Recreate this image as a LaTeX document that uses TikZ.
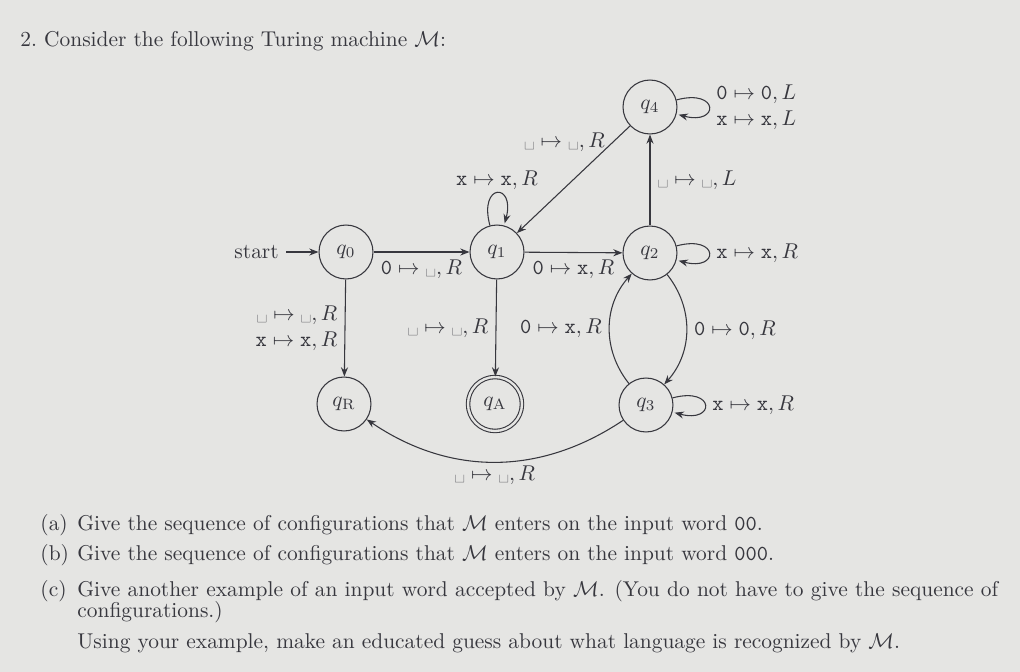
\documentclass[tikz,border=0pt]{standalone}
\usetikzlibrary{automata,arrows.meta}
\definecolor{paper}{RGB}{229,229,227}
\definecolor{ink}{RGB}{55,55,62}
\newcommand\blk{\mbox{\textvisiblespace}}
\newcommand\tz{\texttt{0}}
\newcommand\tx{\texttt{x}}
\newcommand\trn[3]{$#1\mapsto #2,#3$}
\begin{document}
\begin{tikzpicture}[x=0.467pt,y=-0.467pt,
  every node/.style={text=ink},
  every state/.style={draw=ink, line width=0.5pt, minimum size=25.2pt, inner sep=0pt},
  accepting/.style={double=paper, double distance=1.1pt},
  >={Stealth[length=4.3pt,width=3.3pt]},
  every edge/.style={draw=ink, line width=0.5pt},
  initial text=start, initial distance=15pt,
  every initial by arrow/.style={draw=ink, line width=0.5pt},
  txt/.style={anchor=base west, inner xsep=0pt}]
\fill[paper] (0,0) rectangle (1020,672);
\useasboundingbox (0,0) rectangle (1020,672);

\node[txt] (title) at (20,46) {2.\ Consider the following Turing machine $\mathcal{M}$:};

\node[state,initial] (q0) at (346,252) {$q_0$};
\node[state] (q1) at (497,252) {$q_1$};
\node[state] (q2) at (650,253) {$q_2$};
\node[state] (q4) at (650,107) {$q_4$};
\node[state] (qR) at (344,404) {$q_{\mathrm{R}}$};
\node[state,accepting] (qA) at (495,404) {$q_{\mathrm{A}}$};
\node[state] (q3) at (646,405) {$q_3$};

\path[->]
 (q0) edge node[below] {\trn{\tz}{\blk}{R}} (q1)
 (q1) edge node[below] {\trn{\tz}{\tx}{R}} (q2)
 (q1) edge[loop above] node[above, inner sep=1.2pt] {\trn{\tx}{\tx}{R}} ()
 (q4) edge node[pos=0.2, anchor=base east, inner sep=1pt] {\trn{\blk}{\blk}{R}} (q1)
 (q2) edge node[right] {\trn{\blk}{\blk}{L}} (q4)
 (q4) edge[loop right] node[right, align=left] {\trn{\tz}{\tz}{L}\\\trn{\tx}{\tx}{L}} ()
 (q2) edge[loop right] node[right] {\trn{\tx}{\tx}{R}} ()
 (q0) edge node[left, align=right] {\trn{\blk}{\blk}{R}\\\trn{\tx}{\tx}{R}} (qR)
 (q1) edge node[left] {\trn{\blk}{\blk}{R}} (qA)
 (q3) edge[bend left=40] node[left] {\trn{\tz}{\tx}{R}} (q2)
 (q2) edge[bend left=40] node[right] {\trn{\tz}{\tz}{R}} (q3)
 (q3) edge[loop right] node[right] {\trn{\tx}{\tx}{R}} ()
 (q3) edge[bend left=34] node[below, inner sep=1.5pt] {\trn{\blk}{\blk}{R}} (qR);

\node[txt] (la) at (40,530) {(a)};
\node[txt] (ta) at (77,530) {Give the sequence of configurations that $\mathcal{M}$ enters on the input word \texttt{00}.};
\node[txt] (lb) at (40,560) {(b)};
\node[txt] (tb) at (77,560) {Give the sequence of configurations that $\mathcal{M}$ enters on the input word \texttt{000}.};
\node[txt] (lc) at (40,596) {(c)};
\node[txt] (tc) at (77,596) {\makebox[430pt][s]{Give another example of an input word accepted by $\mathcal{M}$. (You do not have to give the sequence of}};
\node[txt] (tc2) at (77,617) {configurations.)};
\node[txt] (tu) at (77,648) {Using your example, make an educated guess about what language is recognized by $\mathcal{M}$.};
\end{tikzpicture}
\end{document}
